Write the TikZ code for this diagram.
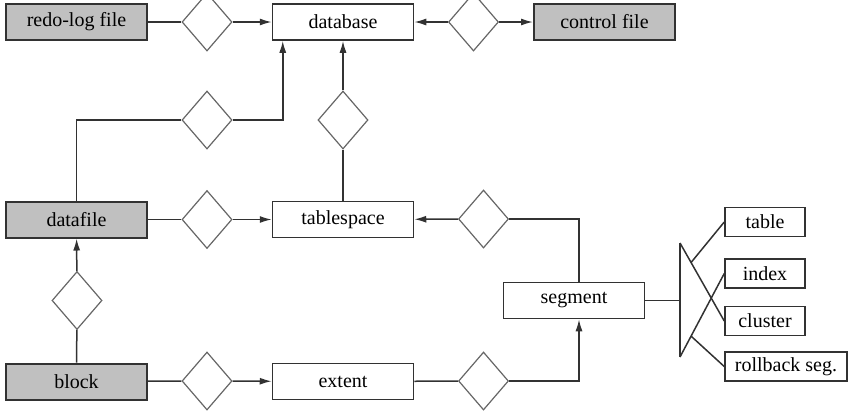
\documentclass[tikz,border=0pt]{standalone}
\usepackage{fontspec}
\setmainfont{Liberation Serif}
\usepackage{xcolor}
\usetikzlibrary{er,positioning}
\usetikzlibrary{shapes.geometric,arrows.meta,calc}

\definecolor{filegray}{RGB}{192,192,192}
\definecolor{linegray}{RGB}{50,50,50}

\tikzset{
  every entity/.style={draw=linegray, line width=0.75pt, minimum width=70.5pt,
    minimum height=18pt, inner sep=1pt, text=black, font=\fontsize{10}{12}\selectfont},
  file/.style={entity, fill=filegray, line width=1pt},
  kind/.style={entity, minimum width=40pt, minimum height=14.5pt},
  every relationship/.style={draw=black!60, line width=0.6pt, minimum width=25pt,
    minimum height=29pt, inner sep=0pt},
  link/.style={draw=linegray, line width=0.75pt},
}

\begin{document}
\begin{tikzpicture}[x=0.5pt,y=-0.5pt,>={Latex[length=6pt,width=3.5pt]}]
    \path[use as bounding box, clip] (0,0) rectangle (862,419);
    % files and storage units
    \node[file]   (redo)       at (76.5,22)  {redo-log file};
    \node[entity] (database)   at (343,22)   {database};
    \node[file]   (control)    at (604.5,22) {control file};
    \node[file]   (datafile)   at (76.5,219.5) {datafile};
    \node[entity] (tablespace) at (343,219.5) {tablespace};
    \node[file]   (block)      at (76.5,381.5) {block};
    \node[entity] (extent)     at (343,381.5) {extent};
    \node[entity] (segment)    at (574,300.5) {segment};
    % segment kinds
    \node[kind] (table)    at (765,222)   {table};
    \node[kind] (index)    at (765,273.5) {index};
    \node[kind] (cluster)  at (765,321)   {cluster};
    \node[kind, minimum width=61pt] (rollback) at (786,366.5) {rollback seg.};
    % relationships
    \node[relationship] (redodb)  at (207,22)    {};
    \node[relationship] (ctrldb)  at (473.5,22)  {};
    \node[relationship] (filedb)  at (207,120)   {};
    \node[relationship] (spacedb) at (343,120)   {};
    \node[relationship] (filesp)  at (207,219.5) {};
    \node[relationship] (segsp)   at (483.5,219) {};
    \node[relationship] (blkfile) at (77,300.5)  {};
    \node[relationship] (blkext)  at (207,381)   {};
    \node[relationship] (extseg)  at (483.5,381) {};
    % connectors
    \draw[link] (redo) -- (redodb);
    \draw[link,->] (redodb) -- (database);
    \draw[link,->] (ctrldb) -- (database);
    \draw[link,->] (ctrldb) -- (control);
    \draw[link] (datafile.north) |- (filedb.west);
    \draw[link,->] (filedb.east) -| ([xshift=5.5pt]database.south west);
    \draw[link,->] (spacedb) -- (database);
    \draw[link] (spacedb) -- (tablespace);
    \draw[link] (datafile) -- (filesp);
    \draw[link,->] (filesp) -- (tablespace);
    \draw[link,->] (segsp) -- (tablespace);
    \draw[link] (segsp.east) -| ([xshift=2.5pt]segment.north);
    \draw[link,->] (blkfile) -- (datafile);
    \draw[link] (blkfile) -- (block);
    \draw[link] (block) -- (blkext);
    \draw[link,->] (blkext) -- (extent);
    \draw[link] (extent) -- (extseg);
    \draw[link,->] (extseg.east) -| ([xshift=2.5pt]segment.south);
    % generalisation fan
    \coordinate (fan)    at (680,300.5);
    \coordinate (fantop) at (680,243);
    \coordinate (fanbot) at (680,357);
    \draw[link] (segment) -- (fan);
    \draw[link] (fantop) -- (fanbot);
    \draw[link] (fantop) -- (cluster.west);
    \draw[link] (fanbot) -- (index.west);
    \draw[link] ($(fantop)!0.25!(cluster.west)$) -- (table.west);
    \draw[link] ($(fanbot)!0.25!(index.west)$) -- (rollback.west);
\end{tikzpicture}
\end{document}
